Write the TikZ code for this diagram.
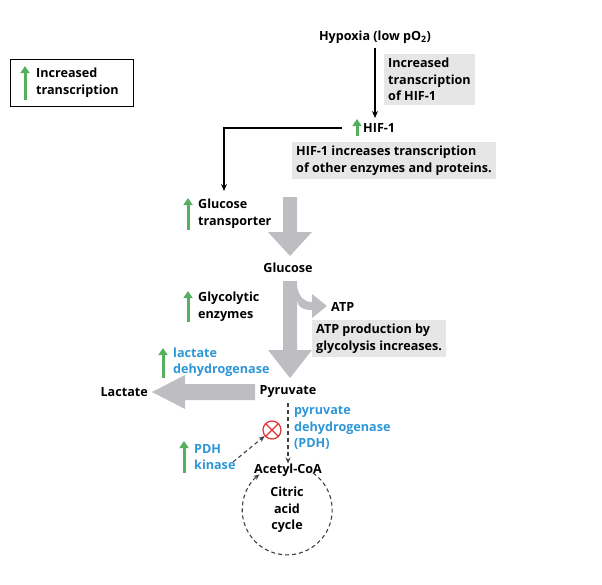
\documentclass[tikz,border=0pt]{standalone}
\usepackage{fontspec}
\setmainfont{Open Sans}
\usetikzlibrary{arrows.meta}
\definecolor{bl}{RGB}{45,150,215}
\definecolor{gr}{RGB}{85,175,95}
\definecolor{bx}{RGB}{230,230,230}
\definecolor{ga}{RGB}{190,190,194}
\definecolor{rd}{RGB}{225,50,50}
\begin{document}
\begin{tikzpicture}[x=1pt,y=1pt,
  t/.style={font=\fontsize{12.6}{16.5}\selectfont\bfseries,inner sep=0pt,align=left},
  tb/.style={t,text=bl},
  box/.style={t,fill=bx,inner sep=4pt,anchor=north west},
  up/.style={draw=gr,line width=3pt,-{Triangle[length=7pt,width=9pt]}},
  blk/.style={draw=black,line width=1.3pt,-{Stealth[length=7pt,width=6pt]}},
  dsh/.style={draw=black!75,line width=1.1pt,dash pattern=on 4pt off 3pt,-{Stealth[length=6pt,width=5pt]}},
  gray/.style={fill=ga,draw=none}]
\useasboundingbox (0,0) rectangle (602,-584);
% legend
\draw[black,line width=1pt] (10,-59) rectangle (133,-106);
\draw[up] (25,-100) -- (25,-66);
\node[t,anchor=west] (lg) at (36,-82.5) {Increased\\transcription};
% top
\node[t] (hyp) at (375,-37) {Hypoxia (low pO$_\mathbf{2}$)};
\node[box] (b1) at (384,-54) {Increased\\transcription\\of HIF-1};
\node[t,anchor=west] (hif) at (363,-128) {HIF-1};
\draw[up] (357,-136) -- (357,-119);
\draw[blk] (hyp.south) ++(0,-4) coordinate (h1) -- (375,-118);
\coordinate (hl) at (342,-128);
\coordinate (gt) at (224,-191);
\draw[blk] (hl) -| (gt);
\node[box] (b2) at (292,-142) {HIF-1 increases transcription\\of other enzymes and proteins.};
% glucose transporter
\draw[up] (188,-230) -- (188,-198);
\node[t,anchor=west] (gtr) at (198,-213.5) {Glucose\\transporter};
\fill[gray] (283,-197) -- (297,-197) -- (297,-232) -- (312,-232) -- (290,-256) -- (268,-232) -- (283,-232) -- cycle;
\node[t] (glc) at (288,-268) {Glucose};
% glycolysis arrow
\fill[gray] (283,-281) -- (297,-281) -- (297,-350) -- (312,-350) -- (290,-378) -- (268,-350) -- (283,-350) -- cycle;
\fill[gray] (297,-287) .. controls (300,-298) and (304,-302) .. (312,-302) -- (312,-294) -- (327,-306) -- (312,-318) -- (312,-310) .. controls (302,-310) and (297,-306) .. (297,-300) -- cycle;
\node[t,anchor=west] (atp) at (331,-307) {ATP};
\node[box] (b3) at (312,-320) {ATP production by\\glycolysis increases.};
\draw[up] (188,-322) -- (188,-291);
\node[t,anchor=west] (gly) at (198,-306.5) {Glycolytic\\enzymes};
% lactate
\draw[up] (163,-378) -- (163,-348);
\node[tb,anchor=west] (ldh) at (173,-362) {lactate\\dehydrogenase};
\node[t] (pyr) at (288,-392) {Pyruvate};
\node[t,anchor=east] (lac) at (148,-392) {Lactate};
\fill[gray] (255,-384) -- (255,-400) -- (185,-400) -- (185,-409) -- (152,-392) -- (185,-375) -- (185,-384) -- cycle;
% PDH
\node[t] (aca) at (288,-470) {Acetyl-CoA};
\draw[dsh] (pyr.south) ++(0,-5) coordinate (p1) -- (aca.north);
\node[circle,draw=rd,line width=1.2pt,minimum size=18pt,inner sep=0pt] (x) at (272,-430) {};
\draw[rd,line width=1.2pt] (x.45) -- (x.225) (x.135) -- (x.315);
\node[tb,anchor=west] (pdh) at (294,-428) {pyruvate\\dehydrogenase\\(PDH)};
\draw[up] (184,-473) -- (184,-441);
\node[tb,anchor=west] (pk) at (194,-457) {PDH\\kinase};
\draw[dsh] (233,-462) -- (x);
% cycle
\draw[dsh] (313,-473) arc[start angle=55,end angle=-232,radius=45];
\node[t,align=center] (cac) at (287,-510) {Citric\\acid\\cycle};
\end{tikzpicture}
\end{document}
